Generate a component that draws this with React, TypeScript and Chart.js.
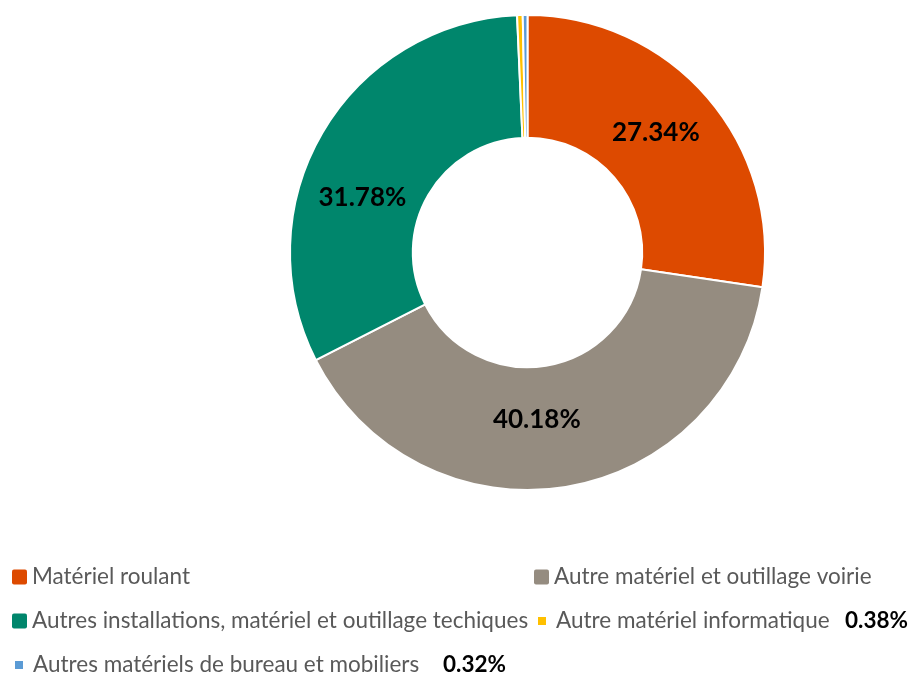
import React, { useEffect, useRef } from "react";
import { Chart, registerables } from "chart.js";

Chart.register(...registerables);

const categories = [
  "Matériel roulant",
  "Autre matériel et outillage voirie",
  "Autres installations, matériel et outillage techiques",
  "Autre matériel informatique",
  "Autres matériels de bureau et mobiliers",
];
const values = [27.34, 40.18, 31.78, 0.38, 0.32];
const colors = ["#DD4A00", "#958C80", "#00866C", "#FFC000", "#5B9BD5"];

// legend layout (style only)
const legendPos = [
  { x: 12, y: 577, box: 15, labelX: 0 },
  { x: 534, y: 577, box: 15, labelX: 0 },
  { x: 12, y: 621, box: 15, labelX: 0 },
  { x: 538, y: 621, box: 8, labelX: 845 },
  { x: 15, y: 665, box: 8, labelX: 443 },
];
// small nudges of slice labels (style only)
const labelNudge = [
  { dx: -5, dy: -5 },
  { dx: -19, dy: -7 },
  { dx: -13, dy: 34 },
  { dx: 0, dy: 0 },
  { dx: 0, dy: 0 },
];

const FONT = "Lato, 'Open Sans', sans-serif";

const fmt = (v: number) => v.toFixed(2) + "%";

const sliceLabels = {
  id: "sliceLabels",
  afterDatasetsDraw(chart: any) {
    const ctx = chart.ctx;
    const meta = chart.getDatasetMeta(0);
    ctx.save();
    ctx.font = `bold 26px ${FONT}`;
    ctx.fillStyle = "#000";
    ctx.textAlign = "center";
    ctx.textBaseline = "middle";
    meta.data.forEach((arc: any, i: number) => {
      const v = values[i];
      if (v < 1) return;
      const p = arc.tooltipPosition();
      ctx.fillText(fmt(v), p.x + labelNudge[i].dx, p.y + labelNudge[i].dy);
    });
    ctx.restore();
  },
};

const customLegend = {
  id: "customLegend",
  afterDraw(chart: any) {
    const ctx = chart.ctx;
    ctx.save();
    ctx.textBaseline = "middle";
    ctx.textAlign = "left";
    categories.forEach((name, i) => {
      const L = legendPos[i];
      ctx.fillStyle = colors[i];
      const s = L.box;
      ctx.beginPath();
      if ((ctx as any).roundRect) (ctx as any).roundRect(L.x, L.y - s / 2, s, s, s > 10 ? 2 : 0);
      else ctx.rect(L.x, L.y - s / 2, s, s);
      ctx.fill();
      ctx.font = `22.5px ${FONT}`;
      ctx.fillStyle = "#595959";
      const tx = s > 10 ? L.x + s + 5 : L.x + s + 10;
      ctx.fillText(name, tx, L.y);
      if (L.labelX) {
        ctx.font = `bold 22.5px ${FONT}`;
        ctx.fillStyle = "#000";
        ctx.fillText(fmt(values[i]), L.labelX, L.y);
      }
    });
    ctx.restore();
  },
};

export default function App() {
  const ref = useRef<HTMLCanvasElement>(null);
  useEffect(() => {
    document.body.style.margin = "0";
    const chart = new Chart(ref.current!, {
      type: "doughnut",
      data: {
        labels: categories,
        datasets: [
          {
            data: values,
            backgroundColor: colors,
            borderColor: "#ffffff",
            borderWidth: 2,
          },
        ],
      },
      options: {
        animation: false,
        responsive: false,
        cutout: "48.3%",
        layout: { padding: { left: 289, right: 147, top: 14, bottom: 182 } },
        plugins: {
          legend: { display: false },
          tooltip: { enabled: false },
        },
      },
      plugins: [sliceLabels, customLegend],
    });
    return () => chart.destroy();
  }, []);
  return (
    <div style={{ width: 913, height: 673, background: "#fff" }}>
      <canvas ref={ref} width={913} height={673} style={{ display: "block" }} />
    </div>
  );
}
